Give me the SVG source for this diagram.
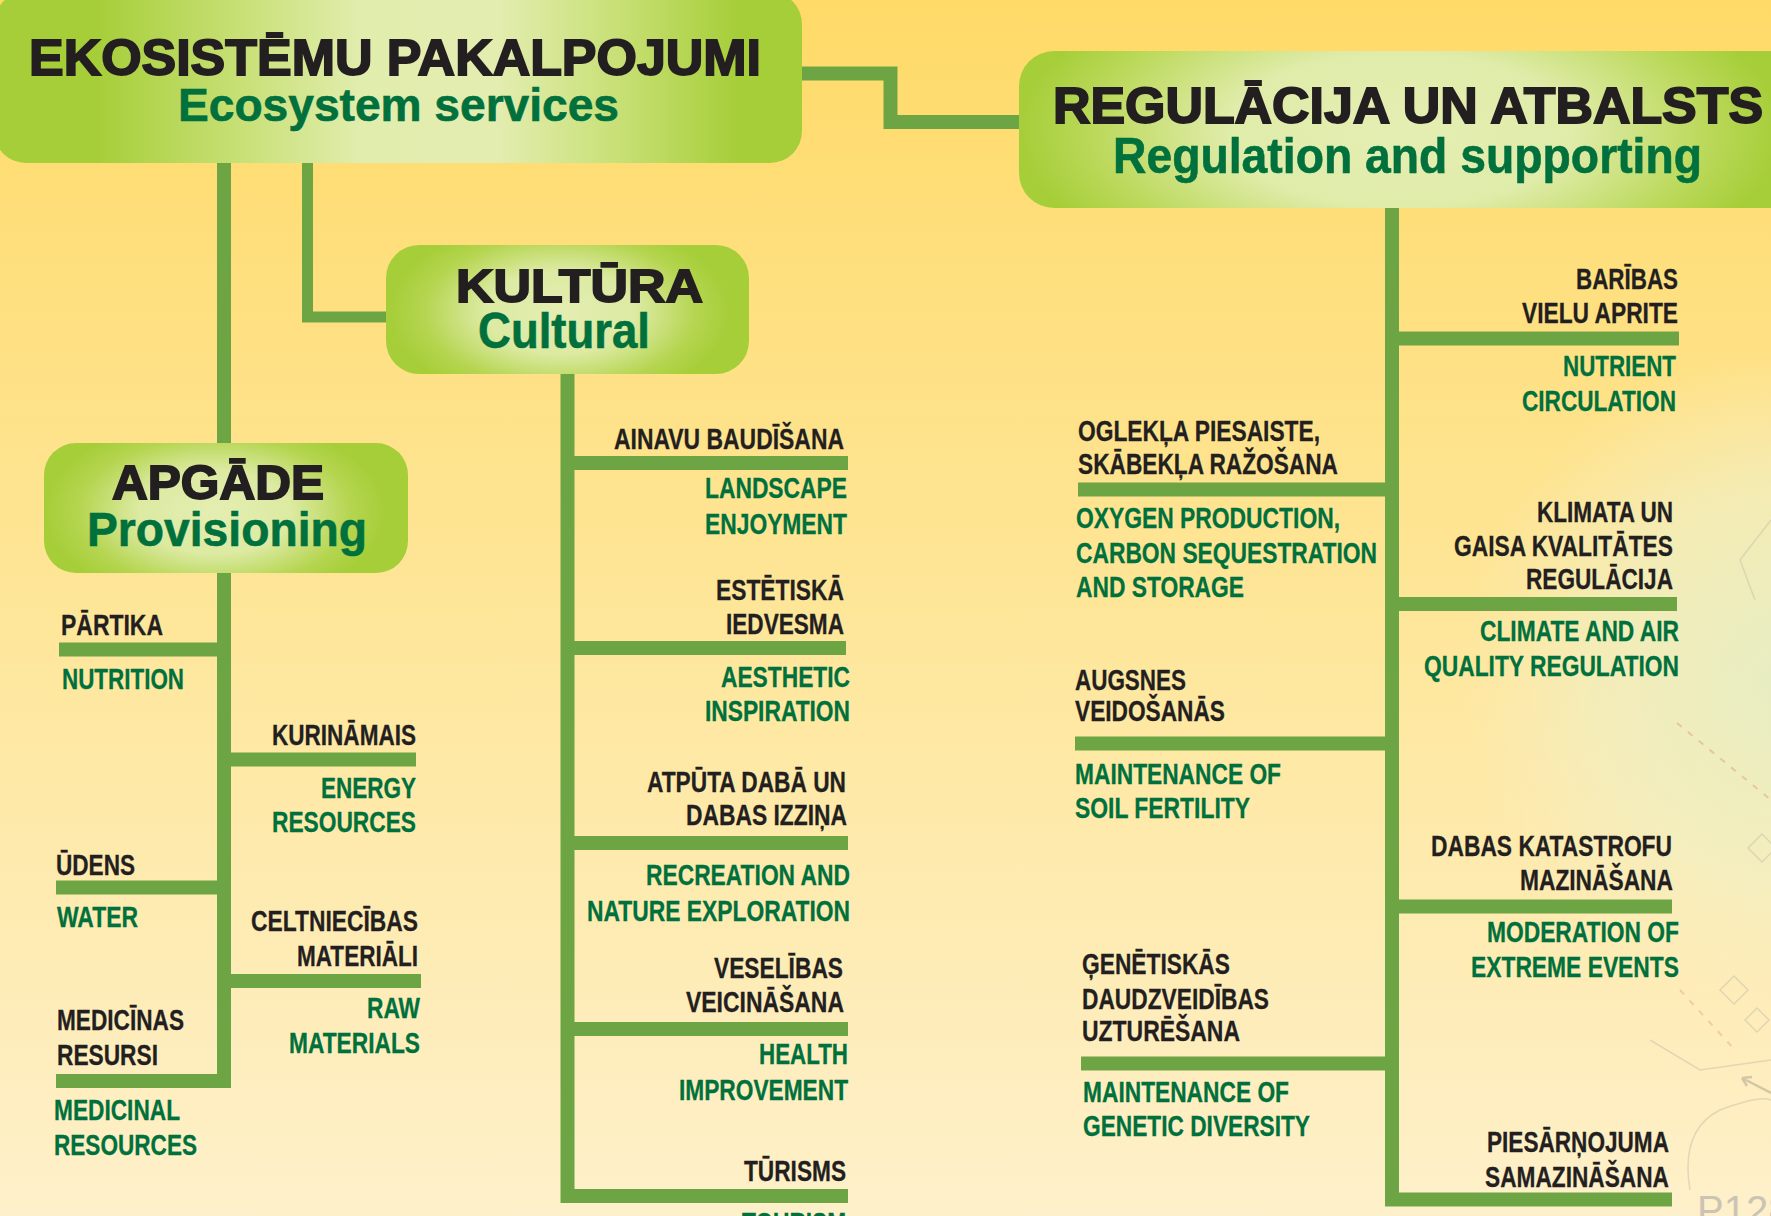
<svg xmlns="http://www.w3.org/2000/svg" width="1771" height="1216" viewBox="0 0 1771 1216">
<defs>
<linearGradient id="bg" x1="0" y1="0" x2="0" y2="1">
<stop offset="0" stop-color="#FFDA68"/>
<stop offset="0.5" stop-color="#FEE699"/>
<stop offset="1" stop-color="#FEF0CA"/>
</linearGradient>
<radialGradient id="glow" cx="1790" cy="680" r="330" gradientUnits="userSpaceOnUse">
<stop offset="0" stop-color="#E6EDC2" stop-opacity="1"/>
<stop offset="0.6" stop-color="#EEF0C8" stop-opacity="0.6"/>
<stop offset="1" stop-color="#F6EFC8" stop-opacity="0"/>
</radialGradient>
<linearGradient id="gEko" x1="0" y1="0" x2="802" y2="0" gradientUnits="userSpaceOnUse">
<stop offset="0.12" stop-color="#A6CE39"/>
<stop offset="0.3" stop-color="#C8E076"/>
<stop offset="0.45" stop-color="#E1EDAD"/>
<stop offset="0.62" stop-color="#E3EDB0"/>
<stop offset="0.78" stop-color="#C6DF72"/>
<stop offset="0.92" stop-color="#A6CE39"/>
</linearGradient>
<radialGradient id="gReg" cx="1400" cy="130" r="380" gradientUnits="userSpaceOnUse" gradientTransform="translate(1400 130) scale(1 0.45) translate(-1400 -130)">
<stop offset="0" stop-color="#E4EEB2"/>
<stop offset="0.45" stop-color="#E0ECAA"/>
<stop offset="0.8" stop-color="#BCD95C"/>
<stop offset="1" stop-color="#A6CE39"/>
</radialGradient>
<radialGradient id="gKul" cx="560" cy="312" r="170" gradientUnits="userSpaceOnUse" gradientTransform="translate(560 312) scale(1 0.55) translate(-560 -312)">
<stop offset="0" stop-color="#E4EEB2"/>
<stop offset="0.45" stop-color="#DCEAA2"/>
<stop offset="0.8" stop-color="#B5D550"/>
<stop offset="1" stop-color="#A6CE39"/>
</radialGradient>
<radialGradient id="gApg" cx="215" cy="512" r="170" gradientUnits="userSpaceOnUse" gradientTransform="translate(215 512) scale(1 0.55) translate(-215 -512)">
<stop offset="0" stop-color="#E4EEB2"/>
<stop offset="0.45" stop-color="#DCEAA2"/>
<stop offset="0.8" stop-color="#B5D550"/>
<stop offset="1" stop-color="#A6CE39"/>
</radialGradient>
<style>
.c{fill:none;stroke:#6DA544;stroke-width:14;stroke-linejoin:miter}
.d{font-family:"Liberation Sans",Arial,sans-serif;font-weight:700;font-size:29px;fill:#231F20;stroke:#231F20;stroke-width:0.3}
.g{font-family:"Liberation Sans",Arial,sans-serif;font-weight:700;font-size:29px;fill:#00703C;stroke:#00703C;stroke-width:0.3}
.hd{font-family:"Liberation Sans",Arial,sans-serif;font-weight:700;fill:#231F20;stroke:#231F20;stroke-width:1.8}
.hg{font-family:"Liberation Sans",Arial,sans-serif;font-weight:700;fill:#00703C;stroke:#00703C;stroke-width:0.6}
.map{fill:none;stroke:#CFC6AE;stroke-width:1.5;opacity:0.6}
</style>
</defs>
<rect x="0" y="0" width="1771" height="1216" fill="url(#bg)"/>
<rect x="1300" y="250" width="471" height="966" fill="url(#glow)"/>
<g id="map-background">
<path class="map" d="M1771 520 L1740 560 L1755 600" />
<path d="M1677 723 L1771 800" fill="none" stroke="#E3A89A" stroke-width="2" stroke-dasharray="6 8" opacity="0.6"/>
<path d="M1680 990 L1735 1050" fill="none" stroke="#E3A89A" stroke-width="2" stroke-dasharray="6 8" opacity="0.5"/>
<path class="map" d="M1690 1190 Q1680 1130 1720 1110 Q1760 1095 1771 1100"/>
<path class="map" d="M1650 1040 L1700 1070 L1771 1060"/>
<path class="map" d="M1748 848 l14 -14 l14 14 l-14 14 z M1720 990 l14 -14 l14 14 l-14 14 z M1745 1020 l12 -12 l12 12 l-12 12 z"/>
<path d="M1742 1078 L1771 1093 M1742 1078 l10 -1 M1742 1078 l5 8" fill="none" stroke="#B8AE98" stroke-width="2.5" opacity="0.6"/>
<text x="1697" y="1224" font-family="'Liberation Sans',Arial,sans-serif" font-size="40" fill="#CBC4B4">P128</text>
</g>
<g id="connectors">
<path class="c" d="M798 73.5 H890.5 V122 H1024"/>
<path class="c" style="stroke-width:11" d="M307.5 160 V317 H390"/>
<path class="c" d="M224 160 V1088"/>
<path class="c" d="M59 649.5 H224"/>
<path class="c" d="M224 759.5 H416"/>
<path class="c" d="M56 887.5 H224"/>
<path class="c" d="M224 981 H421"/>
<path class="c" d="M56 1081 H231"/>
<path class="c" d="M567.5 370 V1196 H848"/>
<path class="c" d="M567.5 463 H848"/>
<path class="c" d="M567.5 648 H846"/>
<path class="c" d="M567.5 843 H848"/>
<path class="c" d="M567.5 1029 H848"/>
<path class="c" d="M1392 204 V1199.5 H1672"/>
<path class="c" d="M1392 338.5 H1679"/>
<path class="c" d="M1392 604 H1677"/>
<path class="c" d="M1392 906.5 H1672"/>
<path class="c" d="M1078 489.5 H1392"/>
<path class="c" d="M1075 743.5 H1392"/>
<path class="c" d="M1081 1063.5 H1392"/>
</g>
<g id="node-ekosistemu">
<rect x="-6" y="-8" width="808" height="171" rx="32" fill="url(#gEko)"/>
<text class="hd" x="29" y="75" font-size="50" textLength="732" lengthAdjust="spacingAndGlyphs">EKOSISTĒMU PAKALPOJUMI</text>
<text class="hg" x="178" y="121" font-size="46" textLength="441" lengthAdjust="spacingAndGlyphs">Ecosystem services</text>
</g>
<g id="node-regulacija">
<rect x="1019" y="51" width="790" height="157" rx="35" fill="url(#gReg)"/>
<text class="hd" x="1053" y="123" font-size="50" textLength="710" lengthAdjust="spacingAndGlyphs">REGULĀCIJA UN ATBALSTS</text>
<text class="hg" x="1113" y="173" font-size="50" textLength="589" lengthAdjust="spacingAndGlyphs">Regulation and supporting</text>
</g>
<g id="node-kultura">
<rect x="386" y="245" width="363" height="129" rx="33" fill="url(#gKul)"/>
<text class="hd" x="456" y="302" font-size="47" textLength="247" lengthAdjust="spacingAndGlyphs">KULTŪRA</text>
<text class="hg" x="478" y="348" font-size="50" textLength="172" lengthAdjust="spacingAndGlyphs">Cultural</text>
</g>
<g id="node-apgade">
<rect x="44" y="443" width="364" height="130" rx="32" fill="url(#gApg)"/>
<text class="hd" x="112" y="499" font-size="48" textLength="212" lengthAdjust="spacingAndGlyphs">APGĀDE</text>
<text class="hg" x="87" y="546" font-size="49" textLength="280" lengthAdjust="spacingAndGlyphs">Provisioning</text>
</g>
<g id="apgade-items">
<g id="item-partika"><text class="d" x="61" y="635" textLength="102" lengthAdjust="spacingAndGlyphs">PĀRTIKA</text><text class="g" x="62" y="689" textLength="122" lengthAdjust="spacingAndGlyphs">NUTRITION</text></g>
<g id="item-kurinamais"><text class="d" x="272" y="745" textLength="144" lengthAdjust="spacingAndGlyphs">KURINĀMAIS</text><text class="g" x="321" y="798" textLength="95" lengthAdjust="spacingAndGlyphs">ENERGY</text><text class="g" x="272" y="832" textLength="144" lengthAdjust="spacingAndGlyphs">RESOURCES</text></g>
<g id="item-udens"><text class="d" x="56" y="875" textLength="79" lengthAdjust="spacingAndGlyphs">ŪDENS</text><text class="g" x="57" y="927" textLength="81" lengthAdjust="spacingAndGlyphs">WATER</text></g>
<g id="item-celtniecibas"><text class="d" x="251" y="931" textLength="167" lengthAdjust="spacingAndGlyphs">CELTNIECĪBAS</text><text class="d" x="297" y="966" textLength="121" lengthAdjust="spacingAndGlyphs">MATERIĀLI</text><text class="g" x="367" y="1018" textLength="53" lengthAdjust="spacingAndGlyphs">RAW</text><text class="g" x="289" y="1053" textLength="131" lengthAdjust="spacingAndGlyphs">MATERIALS</text></g>
<g id="item-medicinas"><text class="d" x="57" y="1030" textLength="127" lengthAdjust="spacingAndGlyphs">MEDICĪNAS</text><text class="d" x="57" y="1065" textLength="101" lengthAdjust="spacingAndGlyphs">RESURSI</text><text class="g" x="54" y="1120" textLength="126" lengthAdjust="spacingAndGlyphs">MEDICINAL</text><text class="g" x="54" y="1155" textLength="143" lengthAdjust="spacingAndGlyphs">RESOURCES</text></g>
</g>
<g id="kultura-items">
<g id="item-ainavu"><text class="d" x="614" y="449" textLength="230" lengthAdjust="spacingAndGlyphs">AINAVU BAUDĪŠANA</text><text class="g" x="705" y="498" textLength="142" lengthAdjust="spacingAndGlyphs">LANDSCAPE</text><text class="g" x="705" y="534" textLength="142" lengthAdjust="spacingAndGlyphs">ENJOYMENT</text></g>
<g id="item-estetiska"><text class="d" x="716" y="600" textLength="128" lengthAdjust="spacingAndGlyphs">ESTĒTISKĀ</text><text class="d" x="726" y="634" textLength="118" lengthAdjust="spacingAndGlyphs">IEDVESMA</text><text class="g" x="721" y="687" textLength="129" lengthAdjust="spacingAndGlyphs">AESTHETIC</text><text class="g" x="705" y="721" textLength="145" lengthAdjust="spacingAndGlyphs">INSPIRATION</text></g>
<g id="item-atputa"><text class="d" x="647" y="792" textLength="199" lengthAdjust="spacingAndGlyphs">ATPŪTA DABĀ UN</text><text class="d" x="686" y="825" textLength="161" lengthAdjust="spacingAndGlyphs">DABAS IZZIŅA</text><text class="g" x="646" y="885" textLength="204" lengthAdjust="spacingAndGlyphs">RECREATION AND</text><text class="g" x="587" y="921" textLength="263" lengthAdjust="spacingAndGlyphs">NATURE EXPLORATION</text></g>
<g id="item-veselibas"><text class="d" x="714" y="978" textLength="129" lengthAdjust="spacingAndGlyphs">VESELĪBAS</text><text class="d" x="686" y="1012" textLength="158" lengthAdjust="spacingAndGlyphs">VEICINĀŠANA</text><text class="g" x="759" y="1064" textLength="89" lengthAdjust="spacingAndGlyphs">HEALTH</text><text class="g" x="679" y="1100" textLength="169" lengthAdjust="spacingAndGlyphs">IMPROVEMENT</text></g>
<g id="item-turisms"><text class="d" x="744" y="1181" textLength="102" lengthAdjust="spacingAndGlyphs">TŪRISMS</text><text class="g" x="742" y="1233" textLength="104" lengthAdjust="spacingAndGlyphs">TOURISM</text></g>
</g>
<g id="regulacija-items">
<g id="item-baribas"><text class="d" x="1576" y="289" textLength="102" lengthAdjust="spacingAndGlyphs">BARĪBAS</text><text class="d" x="1522" y="323" textLength="156" lengthAdjust="spacingAndGlyphs">VIELU APRITE</text><text class="g" x="1563" y="376" textLength="113" lengthAdjust="spacingAndGlyphs">NUTRIENT</text><text class="g" x="1522" y="411" textLength="154" lengthAdjust="spacingAndGlyphs">CIRCULATION</text></g>
<g id="item-klimata"><text class="d" x="1537" y="522" textLength="136" lengthAdjust="spacingAndGlyphs">KLIMATA UN</text><text class="d" x="1454" y="556" textLength="219" lengthAdjust="spacingAndGlyphs">GAISA KVALITĀTES</text><text class="d" x="1526" y="589" textLength="147" lengthAdjust="spacingAndGlyphs">REGULĀCIJA</text><text class="g" x="1480" y="641" textLength="199" lengthAdjust="spacingAndGlyphs">CLIMATE AND AIR</text><text class="g" x="1424" y="676" textLength="255" lengthAdjust="spacingAndGlyphs">QUALITY REGULATION</text></g>
<g id="item-dabas"><text class="d" x="1431" y="856" textLength="241" lengthAdjust="spacingAndGlyphs">DABAS KATASTROFU</text><text class="d" x="1520" y="890" textLength="153" lengthAdjust="spacingAndGlyphs">MAZINĀŠANA</text><text class="g" x="1487" y="942" textLength="192" lengthAdjust="spacingAndGlyphs">MODERATION OF</text><text class="g" x="1471" y="977" textLength="208" lengthAdjust="spacingAndGlyphs">EXTREME EVENTS</text></g>
<g id="item-piesarnojuma"><text class="d" x="1487" y="1152" textLength="182" lengthAdjust="spacingAndGlyphs">PIESĀRŅOJUMA</text><text class="d" x="1485" y="1187" textLength="184" lengthAdjust="spacingAndGlyphs">SAMAZINĀŠANA</text></g>
<g id="item-oglekla"><text class="d" x="1078" y="441" textLength="242" lengthAdjust="spacingAndGlyphs">OGLEKĻA PIESAISTE,</text><text class="d" x="1078" y="474" textLength="260" lengthAdjust="spacingAndGlyphs">SKĀBEKĻA RAŽOŠANA</text><text class="g" x="1076" y="528" textLength="264" lengthAdjust="spacingAndGlyphs">OXYGEN PRODUCTION,</text><text class="g" x="1076" y="563" textLength="301" lengthAdjust="spacingAndGlyphs">CARBON SEQUESTRATION</text><text class="g" x="1076" y="597" textLength="168" lengthAdjust="spacingAndGlyphs">AND STORAGE</text></g>
<g id="item-augsnes"><text class="d" x="1075" y="690" textLength="111" lengthAdjust="spacingAndGlyphs">AUGSNES</text><text class="d" x="1075" y="721" textLength="150" lengthAdjust="spacingAndGlyphs">VEIDOŠANĀS</text><text class="g" x="1075" y="784" textLength="206" lengthAdjust="spacingAndGlyphs">MAINTENANCE OF</text><text class="g" x="1075" y="818" textLength="175" lengthAdjust="spacingAndGlyphs">SOIL FERTILITY</text></g>
<g id="item-genetiskas"><text class="d" x="1082" y="974" textLength="148" lengthAdjust="spacingAndGlyphs">ĢENĒTISKĀS</text><text class="d" x="1082" y="1009" textLength="187" lengthAdjust="spacingAndGlyphs">DAUDZVEIDĪBAS</text><text class="d" x="1082" y="1041" textLength="158" lengthAdjust="spacingAndGlyphs">UZTURĒŠANA</text><text class="g" x="1083" y="1102" textLength="206" lengthAdjust="spacingAndGlyphs">MAINTENANCE OF</text><text class="g" x="1083" y="1136" textLength="227" lengthAdjust="spacingAndGlyphs">GENETIC DIVERSITY</text></g>
</g>
</svg>
